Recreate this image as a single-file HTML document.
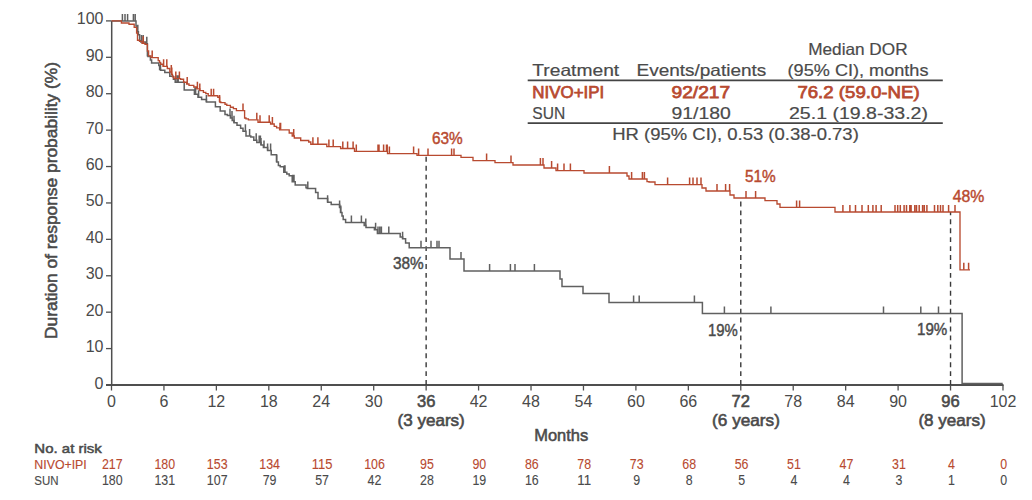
<!DOCTYPE html>
<html><head><meta charset="utf-8"><style>
html,body{margin:0;padding:0;background:#fff;}
svg{display:block;}
text{font-family:"Liberation Sans",sans-serif;fill:#4a4a4a;}
.t16{font-size:16.5px;stroke:#4a4a4a;stroke-width:0.2px;}
.t16n{font-size:16px;stroke-width:0;}
.t16b{font-size:16.5px;stroke:#4a4a4a;stroke-width:0.6px;}
.sb16{font-size:17px;stroke:#4a4a4a;stroke-width:0.75px;}
.t17b{font-size:17px;stroke:#4a4a4a;stroke-width:0.55px;}
.t15b{font-size:17px;stroke:#4a4a4a;stroke-width:0.45px;}
.t14{font-size:14px;stroke:#4a4a4a;stroke-width:0.1px;}
.t13{font-size:13px;stroke:#4a4a4a;stroke-width:0.15px;}
.t13b{font-size:13.5px;stroke:#4a4a4a;stroke-width:0.5px;}
</style></head><body>
<svg width="1032" height="500" viewBox="0 0 1032 500">
<line x1="111.7" y1="20.9" x2="111.7" y2="385.0" stroke="#4f4f4f" stroke-width="1.5"/>
<line x1="106" y1="385.0" x2="1003.5" y2="385.0" stroke="#4f4f4f" stroke-width="1.8"/>
<line x1="106" y1="385.00" x2="111.5" y2="385.00" stroke="#4f4f4f" stroke-width="1.3"/>
<text x="103.5" y="388.50" text-anchor="end" class="t16n">0</text>
<line x1="106" y1="348.59" x2="111.5" y2="348.59" stroke="#4f4f4f" stroke-width="1.3"/>
<text x="103.5" y="352.09" text-anchor="end" class="t16n">10</text>
<line x1="106" y1="312.18" x2="111.5" y2="312.18" stroke="#4f4f4f" stroke-width="1.3"/>
<text x="103.5" y="315.68" text-anchor="end" class="t16n">20</text>
<line x1="106" y1="275.77" x2="111.5" y2="275.77" stroke="#4f4f4f" stroke-width="1.3"/>
<text x="103.5" y="279.27" text-anchor="end" class="t16n">30</text>
<line x1="106" y1="239.36" x2="111.5" y2="239.36" stroke="#4f4f4f" stroke-width="1.3"/>
<text x="103.5" y="242.86" text-anchor="end" class="t16n">40</text>
<line x1="106" y1="202.95" x2="111.5" y2="202.95" stroke="#4f4f4f" stroke-width="1.3"/>
<text x="103.5" y="206.45" text-anchor="end" class="t16n">50</text>
<line x1="106" y1="166.54" x2="111.5" y2="166.54" stroke="#4f4f4f" stroke-width="1.3"/>
<text x="103.5" y="170.04" text-anchor="end" class="t16n">60</text>
<line x1="106" y1="130.13" x2="111.5" y2="130.13" stroke="#4f4f4f" stroke-width="1.3"/>
<text x="103.5" y="133.63" text-anchor="end" class="t16n">70</text>
<line x1="106" y1="93.72" x2="111.5" y2="93.72" stroke="#4f4f4f" stroke-width="1.3"/>
<text x="103.5" y="97.22" text-anchor="end" class="t16n">80</text>
<line x1="106" y1="57.31" x2="111.5" y2="57.31" stroke="#4f4f4f" stroke-width="1.3"/>
<text x="103.5" y="60.81" text-anchor="end" class="t16n">90</text>
<line x1="106" y1="20.90" x2="111.5" y2="20.90" stroke="#4f4f4f" stroke-width="1.3"/>
<text x="103.5" y="24.40" text-anchor="end" class="t16n">100</text>
<line x1="111.50" y1="385.0" x2="111.50" y2="390.5" stroke="#4f4f4f" stroke-width="1.3"/>
<text x="111.50" y="407" text-anchor="middle" class="t16n">0</text>
<line x1="163.94" y1="385.0" x2="163.94" y2="390.5" stroke="#4f4f4f" stroke-width="1.3"/>
<text x="163.94" y="407" text-anchor="middle" class="t16n">6</text>
<line x1="216.38" y1="385.0" x2="216.38" y2="390.5" stroke="#4f4f4f" stroke-width="1.3"/>
<text x="216.38" y="407" text-anchor="middle" class="t16n">12</text>
<line x1="268.82" y1="385.0" x2="268.82" y2="390.5" stroke="#4f4f4f" stroke-width="1.3"/>
<text x="268.82" y="407" text-anchor="middle" class="t16n">18</text>
<line x1="321.26" y1="385.0" x2="321.26" y2="390.5" stroke="#4f4f4f" stroke-width="1.3"/>
<text x="321.26" y="407" text-anchor="middle" class="t16n">24</text>
<line x1="373.70" y1="385.0" x2="373.70" y2="390.5" stroke="#4f4f4f" stroke-width="1.3"/>
<text x="373.70" y="407" text-anchor="middle" class="t16n">30</text>
<line x1="426.14" y1="385.0" x2="426.14" y2="390.5" stroke="#4f4f4f" stroke-width="1.3"/>
<text x="426.14" y="407" text-anchor="middle" class="t16b">36</text>
<line x1="478.58" y1="385.0" x2="478.58" y2="390.5" stroke="#4f4f4f" stroke-width="1.3"/>
<text x="478.58" y="407" text-anchor="middle" class="t16n">42</text>
<line x1="531.02" y1="385.0" x2="531.02" y2="390.5" stroke="#4f4f4f" stroke-width="1.3"/>
<text x="531.02" y="407" text-anchor="middle" class="t16n">48</text>
<line x1="583.46" y1="385.0" x2="583.46" y2="390.5" stroke="#4f4f4f" stroke-width="1.3"/>
<text x="583.46" y="407" text-anchor="middle" class="t16n">54</text>
<line x1="635.90" y1="385.0" x2="635.90" y2="390.5" stroke="#4f4f4f" stroke-width="1.3"/>
<text x="635.90" y="407" text-anchor="middle" class="t16n">60</text>
<line x1="688.34" y1="385.0" x2="688.34" y2="390.5" stroke="#4f4f4f" stroke-width="1.3"/>
<text x="688.34" y="407" text-anchor="middle" class="t16n">66</text>
<line x1="740.78" y1="385.0" x2="740.78" y2="390.5" stroke="#4f4f4f" stroke-width="1.3"/>
<text x="740.78" y="407" text-anchor="middle" class="t16b">72</text>
<line x1="793.22" y1="385.0" x2="793.22" y2="390.5" stroke="#4f4f4f" stroke-width="1.3"/>
<text x="793.22" y="407" text-anchor="middle" class="t16n">78</text>
<line x1="845.66" y1="385.0" x2="845.66" y2="390.5" stroke="#4f4f4f" stroke-width="1.3"/>
<text x="845.66" y="407" text-anchor="middle" class="t16n">84</text>
<line x1="898.10" y1="385.0" x2="898.10" y2="390.5" stroke="#4f4f4f" stroke-width="1.3"/>
<text x="898.10" y="407" text-anchor="middle" class="t16n">90</text>
<line x1="950.54" y1="385.0" x2="950.54" y2="390.5" stroke="#4f4f4f" stroke-width="1.3"/>
<text x="950.54" y="407" text-anchor="middle" class="t16b">96</text>
<line x1="1002.98" y1="385.0" x2="1002.98" y2="390.5" stroke="#4f4f4f" stroke-width="1.3"/>
<text x="1002.98" y="407" text-anchor="middle" class="t16n">102</text>
<text x="397.50" y="425.5" class="t16b" textLength="67.3" lengthAdjust="spacingAndGlyphs">(3 years)</text>
<text x="712.10" y="425.5" class="t16b" textLength="67.8" lengthAdjust="spacingAndGlyphs">(6 years)</text>
<text x="918.40" y="425.5" class="t16b" textLength="67.2" lengthAdjust="spacingAndGlyphs">(8 years)</text>
<text x="561.2" y="441.3" text-anchor="middle" class="t17b" textLength="54" lengthAdjust="spacingAndGlyphs">Months</text>
<text transform="translate(57.3,339) rotate(-90)" x="0" y="0" class="t17b" textLength="277" lengthAdjust="spacingAndGlyphs">Duration of response probability (%)</text>
<text x="34.3" y="452.9" class="t13b" textLength="67.5" lengthAdjust="spacingAndGlyphs">No. at risk</text>
<text x="34.3" y="468.8" class="t13" style="fill:#b84a30;stroke:#b84a30" textLength="52.5" lengthAdjust="spacingAndGlyphs">NIVO+IPI</text>
<text x="34.3" y="484.6" class="t13" textLength="24.2" lengthAdjust="spacingAndGlyphs">SUN</text>
<text x="112.30" y="469.2" text-anchor="middle" class="t14" style="fill:#b84a30;stroke:#b84a30" textLength="20.7" lengthAdjust="spacingAndGlyphs">217</text>
<text x="112.30" y="484.6" text-anchor="middle" class="t14" textLength="20.7" lengthAdjust="spacingAndGlyphs">180</text>
<text x="164.74" y="469.2" text-anchor="middle" class="t14" style="fill:#b84a30;stroke:#b84a30" textLength="20.7" lengthAdjust="spacingAndGlyphs">180</text>
<text x="164.74" y="484.6" text-anchor="middle" class="t14" textLength="20.7" lengthAdjust="spacingAndGlyphs">131</text>
<text x="217.18" y="469.2" text-anchor="middle" class="t14" style="fill:#b84a30;stroke:#b84a30" textLength="20.7" lengthAdjust="spacingAndGlyphs">153</text>
<text x="217.18" y="484.6" text-anchor="middle" class="t14" textLength="20.7" lengthAdjust="spacingAndGlyphs">107</text>
<text x="269.62" y="469.2" text-anchor="middle" class="t14" style="fill:#b84a30;stroke:#b84a30" textLength="20.7" lengthAdjust="spacingAndGlyphs">134</text>
<text x="269.62" y="484.6" text-anchor="middle" class="t14" textLength="13.8" lengthAdjust="spacingAndGlyphs">79</text>
<text x="322.06" y="469.2" text-anchor="middle" class="t14" style="fill:#b84a30;stroke:#b84a30" textLength="20.7" lengthAdjust="spacingAndGlyphs">115</text>
<text x="322.06" y="484.6" text-anchor="middle" class="t14" textLength="13.8" lengthAdjust="spacingAndGlyphs">57</text>
<text x="374.50" y="469.2" text-anchor="middle" class="t14" style="fill:#b84a30;stroke:#b84a30" textLength="20.7" lengthAdjust="spacingAndGlyphs">106</text>
<text x="374.50" y="484.6" text-anchor="middle" class="t14" textLength="13.8" lengthAdjust="spacingAndGlyphs">42</text>
<text x="426.94" y="469.2" text-anchor="middle" class="t14" style="fill:#b84a30;stroke:#b84a30" textLength="13.8" lengthAdjust="spacingAndGlyphs">95</text>
<text x="426.94" y="484.6" text-anchor="middle" class="t14" textLength="13.8" lengthAdjust="spacingAndGlyphs">28</text>
<text x="479.38" y="469.2" text-anchor="middle" class="t14" style="fill:#b84a30;stroke:#b84a30" textLength="13.8" lengthAdjust="spacingAndGlyphs">90</text>
<text x="479.38" y="484.6" text-anchor="middle" class="t14" textLength="13.8" lengthAdjust="spacingAndGlyphs">19</text>
<text x="531.82" y="469.2" text-anchor="middle" class="t14" style="fill:#b84a30;stroke:#b84a30" textLength="13.8" lengthAdjust="spacingAndGlyphs">86</text>
<text x="531.82" y="484.6" text-anchor="middle" class="t14" textLength="13.8" lengthAdjust="spacingAndGlyphs">16</text>
<text x="584.26" y="469.2" text-anchor="middle" class="t14" style="fill:#b84a30;stroke:#b84a30" textLength="13.8" lengthAdjust="spacingAndGlyphs">78</text>
<text x="584.26" y="484.6" text-anchor="middle" class="t14" textLength="13.8" lengthAdjust="spacingAndGlyphs">11</text>
<text x="636.70" y="469.2" text-anchor="middle" class="t14" style="fill:#b84a30;stroke:#b84a30" textLength="13.8" lengthAdjust="spacingAndGlyphs">73</text>
<text x="636.70" y="484.6" text-anchor="middle" class="t14" textLength="6.9" lengthAdjust="spacingAndGlyphs">9</text>
<text x="689.14" y="469.2" text-anchor="middle" class="t14" style="fill:#b84a30;stroke:#b84a30" textLength="13.8" lengthAdjust="spacingAndGlyphs">68</text>
<text x="689.14" y="484.6" text-anchor="middle" class="t14" textLength="6.9" lengthAdjust="spacingAndGlyphs">8</text>
<text x="741.58" y="469.2" text-anchor="middle" class="t14" style="fill:#b84a30;stroke:#b84a30" textLength="13.8" lengthAdjust="spacingAndGlyphs">56</text>
<text x="741.58" y="484.6" text-anchor="middle" class="t14" textLength="6.9" lengthAdjust="spacingAndGlyphs">5</text>
<text x="794.02" y="469.2" text-anchor="middle" class="t14" style="fill:#b84a30;stroke:#b84a30" textLength="13.8" lengthAdjust="spacingAndGlyphs">51</text>
<text x="794.02" y="484.6" text-anchor="middle" class="t14" textLength="6.9" lengthAdjust="spacingAndGlyphs">4</text>
<text x="846.46" y="469.2" text-anchor="middle" class="t14" style="fill:#b84a30;stroke:#b84a30" textLength="13.8" lengthAdjust="spacingAndGlyphs">47</text>
<text x="846.46" y="484.6" text-anchor="middle" class="t14" textLength="6.9" lengthAdjust="spacingAndGlyphs">4</text>
<text x="898.90" y="469.2" text-anchor="middle" class="t14" style="fill:#b84a30;stroke:#b84a30" textLength="13.8" lengthAdjust="spacingAndGlyphs">31</text>
<text x="898.90" y="484.6" text-anchor="middle" class="t14" textLength="6.9" lengthAdjust="spacingAndGlyphs">3</text>
<text x="951.34" y="469.2" text-anchor="middle" class="t14" style="fill:#b84a30;stroke:#b84a30" textLength="6.9" lengthAdjust="spacingAndGlyphs">4</text>
<text x="951.34" y="484.6" text-anchor="middle" class="t14" textLength="6.9" lengthAdjust="spacingAndGlyphs">1</text>
<text x="1003.78" y="469.2" text-anchor="middle" class="t14" style="fill:#b84a30;stroke:#b84a30" textLength="6.9" lengthAdjust="spacingAndGlyphs">0</text>
<text x="1003.78" y="484.6" text-anchor="middle" class="t14" textLength="6.9" lengthAdjust="spacingAndGlyphs">0</text>
<text x="808.2" y="54.5" class="t16" textLength="99.4" lengthAdjust="spacingAndGlyphs">Median DOR</text>
<text x="532.3" y="75.6" class="t16" textLength="86.9" lengthAdjust="spacingAndGlyphs">Treatment</text>
<text x="636.5" y="75.6" class="t16" textLength="129.8" lengthAdjust="spacingAndGlyphs">Events/patients</text>
<text x="787.6" y="75.6" class="t16" textLength="140.9" lengthAdjust="spacingAndGlyphs">(95% CI), months</text>
<line x1="527.7" y1="80.4" x2="942.8" y2="80.4" stroke="#444" stroke-width="1.6"/>
<text x="532.3" y="97.7" class="sb16" style="fill:#b84a30;stroke:#b84a30" textLength="72.0" lengthAdjust="spacingAndGlyphs">NIVO+IPI</text>
<text x="671.5" y="97.7" class="sb16" style="fill:#b84a30;stroke:#b84a30" textLength="58.6" lengthAdjust="spacingAndGlyphs">92/217</text>
<text x="797.4" y="97.7" class="sb16" style="fill:#b84a30;stroke:#b84a30" textLength="122.2" lengthAdjust="spacingAndGlyphs">76.2 (59.0-NE)</text>
<text x="532.3" y="118.8" class="t16" textLength="32.9" lengthAdjust="spacingAndGlyphs">SUN</text>
<text x="671.5" y="118.8" class="t16" textLength="59.3" lengthAdjust="spacingAndGlyphs">91/180</text>
<text x="789.0" y="118.8" class="t16" textLength="139.0" lengthAdjust="spacingAndGlyphs">25.1 (19.8-33.2)</text>
<line x1="527.7" y1="123.1" x2="942.8" y2="123.1" stroke="#444" stroke-width="1.6"/>
<text x="612.2" y="140.4" class="t16" textLength="246.6" lengthAdjust="spacingAndGlyphs">HR (95% CI), 0.53 (0.38-0.73)</text>
<line x1="426.14" y1="385.0" x2="426.14" y2="155.4" stroke="#3a3a3a" stroke-width="1.4" stroke-dasharray="4.9,4.03"/>
<line x1="740.78" y1="385.0" x2="740.78" y2="198" stroke="#3a3a3a" stroke-width="1.4" stroke-dasharray="4.9,4.03"/>
<line x1="950.54" y1="385.0" x2="950.54" y2="212" stroke="#3a3a3a" stroke-width="1.4" stroke-dasharray="4.9,4.03"/>
<text x="432.0" y="144.3" class="t15b" style="fill:#b84a30;stroke:#b84a30" textLength="30.7" lengthAdjust="spacingAndGlyphs">63%</text>
<text x="745.0" y="182.4" class="t15b" style="fill:#b84a30;stroke:#b84a30" textLength="30.8" lengthAdjust="spacingAndGlyphs">51%</text>
<text x="952.8" y="202" class="t15b" style="fill:#b84a30;stroke:#b84a30" textLength="31.6" lengthAdjust="spacingAndGlyphs">48%</text>
<text x="393.0" y="269" class="t15b" textLength="30.8" lengthAdjust="spacingAndGlyphs">38%</text>
<text x="708.0" y="336.4" class="t15b" textLength="29.8" lengthAdjust="spacingAndGlyphs">19%</text>
<text x="917.0" y="335" class="t15b" textLength="30.3" lengthAdjust="spacingAndGlyphs">19%</text>
<path d="M111.5,20.9 H136 V26 H137 V31.8 H138.4 V34.8 H139.6 V40.8 H140.8 V42 H145.6 V43.8 H147.4 V55.8 H148 V56.4 H150.4 V60 H151.6 V63 H158.8 V65.4 H159.6 V69.6 H160.6 V70.2 H164.8 V72.6 H169.8 V76.2 H173.4 V79.2 H175.2 V82.2 H184.2 V90 H194.4 V94.2 H198 V97.2 H201.6 V99.6 H206.4 V102 H215.4 V106.8 H220.2 V111 H225 V114.4 H227.4 V115.6 H230.4 V118 H232.2 V120.4 H234 V122.8 H237 V125.2 H240.6 V128.2 H243 V131.2 H246 V136 H250.8 V137 H253.8 V140.2 H256.8 V142.6 H261 V145 H263.4 V147.4 H267.6 V150.4 H271.2 V154.8 H276.6 V162 H278.4 V165.6 H280.2 V166.8 H283.8 V172.2 H286.8 V174 H289.2 V175.8 H292.2 V181.8 H295.2 V185 H306 V187.8 H307.2 V188.4 H315.6 V192.6 H318 V198.6 H327.6 V202.2 H331.2 V204.6 H339.6 V207.5 H340.5 V212.4 H342 V216 H343.2 V219.6 H345.6 V222.6 H364.2 V225.6 H366 V227.4 H374.4 V229.8 H377.4 V233.6 H400.2 V237 H402.6 V238.8 H405.6 V243 H409.2 V247.8 H450 V259 H464 V271 H560 V279 H562 V286.4 H583 V293.6 H609 V302.4 H702.4 V313.6 H962.1 V383.5 H1002.7" fill="none" stroke="#606060" stroke-width="1.5"/>
<path d="M122.4,20.9 v-7 M125,20.9 v-7 M127.6,20.9 v-7 M133.4,20.9 v-7 M135.2,20.9 v-7 M137.8,31.8 v-7 M141.4,42 v-7 M143.2,42 v-7 M146.8,43.8 v-7 M160.5,69.6 v-7 M177,82.2 v-7 M178.2,82.2 v-7 M195,94.2 v-7 M195.6,94.2 v-7 M198.6,97.2 v-7 M206.4,102 v-7 M230,115.6 v-7 M232,118 v-7 M234,122.8 v-7 M245.4,131.2 v-7 M249.6,136 v-7 M256.2,140.2 v-7 M259.2,142.6 v-7 M260.4,142.6 v-7 M261,145 v-7 M264,147.4 v-7 M267.6,150.4 v-7 M270.6,150.4 v-7 M276.6,162 v-7 M284.4,172.2 v-7 M285,172.2 v-7 M292.8,181.8 v-7 M293.4,181.8 v-7 M294,181.8 v-7 M307.8,188.4 v-7 M327.6,202.2 v-7 M339.6,207.5 v-7 M340.8,212.4 v-7 M351.4,222.6 v-7 M361.4,222.6 v-7 M365.8,225.6 v-7 M375.6,229.8 v-7 M378,233.6 v-7 M379.8,233.6 v-7 M381.4,233.6 v-7 M388.8,233.6 v-7 M402.6,238.8 v-7 M421,247.8 v-7 M431,247.8 v-7 M437,247.8 v-7 M439,247.8 v-7 M461,259 v-7 M489.6,271 v-7 M510.4,271 v-7 M515,271 v-7 M534.4,271 v-7 M633.6,302.4 v-7 M639.2,302.4 v-7 M694.4,302.4 v-7 M724.4,313.6 v-7 M770.9,313.6 v-7 M883.5,313.6 v-7 M920.8,313.6 v-7 M938.5,313.6 v-7 " fill="none" stroke="#606060" stroke-width="1.5"/>
<path d="M111.5,20.9 H121.4 V23 H129 V24.2 H134.2 V27.3 H136.6 V33 H137.5 V40.2 H139.6 V41.4 H142 V43.2 H145 V44.4 H147.4 V51 H148.6 V55.8 H151 V57.6 H158.2 V60.6 H159.5 V62.4 H160.6 V64.2 H163 V66.3 H167.3 V68.5 H169.8 V72 H171.5 V74.5 H172.5 V76.8 H174 V78.6 H180.6 V79.2 H183.6 V82.2 H186.6 V84 H189 V85.4 H193.8 V87 H196.8 V88.8 H199.8 V90.6 H203.4 V92.4 H205.8 V93.6 H208.2 V95.7 H217.8 V97.2 H219.6 V102 H220.8 V102.6 H225 V104.2 H226.8 V105.4 H230.4 V107.2 H233.4 V108.6 H236.4 V110.6 H244.6 V118 H246 V118.8 H248.4 V119.8 H258 V122.2 H270.6 V124 H274.2 V126.4 H276.6 V127.8 H279.6 V129.8 H289.2 V133 H292.2 V136 H294.3 V138 H300.7 V140.5 H308.7 V142 H310.8 V144.2 H326.8 V146.6 H340.6 V148.5 H354.5 V151.4 H387.5 V153.6 H417 V155.4 H461 V157.4 H473 V160.6 H495 V162.6 H513 V165 H544 V168 H556 V170.6 H584 V173 H627 V176 H629 V179 H647 V181.6 H649 V182 H655 V184.6 H702 V188 H706 V191 H730 V195 H734 V198 H765 V200.6 H777 V204 H780 V207.4 H835 V212 H960 V269.8 H970" fill="none" stroke="#b84a30" stroke-width="1.35"/>
<path d="M143.2,43.2 v-7 M152.2,57.6 v-7 M163.6,66.3 v-7 M166.8,66.3 v-7 M171.3,72 v-7 M171.8,74.5 v-7 M175.8,78.6 v-7 M179.4,78.6 v-7 M187.2,84 v-7 M197.4,88.8 v-7 M199.8,90.6 v-7 M211.2,95.7 v-7 M213.6,95.7 v-7 M219.6,102 v-7 M243,110.6 v-7 M256.8,119.8 v-7 M260,122.2 v-7 M269.2,122.2 v-7 M272.4,124 v-7 M280,129.8 v-7 M280.6,129.8 v-7 M293.7,136 v-7 M312.9,144.2 v-7 M317.9,144.2 v-7 M328.9,146.6 v-7 M333.2,146.6 v-7 M342.8,148.5 v-7 M347.6,148.5 v-7 M353.1,148.5 v-7 M356.3,151.4 v-7 M378,151.4 v-7 M379,151.4 v-7 M383.6,151.4 v-7 M386.5,151.4 v-7 M387.2,151.4 v-7 M389.4,153.6 v-7 M413.6,153.6 v-7 M418.6,155.4 v-7 M428,155.4 v-7 M451.6,155.4 v-7 M454,155.4 v-7 M486.6,160.6 v-7 M511,162.6 v-7 M540.4,165 v-7 M543,165 v-7 M551.6,168 v-7 M557.6,170.6 v-7 M564,170.6 v-7 M570.4,170.6 v-7 M609.4,173 v-7 M631.6,179 v-7 M642.4,179 v-7 M644.4,179 v-7 M667.6,184.6 v-7 M689.6,184.6 v-7 M693,184.6 v-7 M697,184.6 v-7 M701,184.6 v-7 M717,191 v-7 M725.6,191 v-7 M729.6,191 v-7 M746,198 v-7 M755.6,198 v-7 M796.6,207.4 v-7 M799.6,207.4 v-7 M842.9,212 v-7 M849.9,212 v-7 M855.5,212 v-7 M862,212 v-7 M868.3,212 v-7 M872.9,212 v-7 M876.1,212 v-7 M881.2,212 v-7 M895.0,212 v-7 M897.7,212 v-7 M900.3,212 v-7 M904.1,212 v-7 M906.5,212 v-7 M909.8,212 v-7 M911.1,212 v-7 M914.8,212 v-7 M916.5,212 v-7 M919.2,212 v-7 M922.6,212 v-7 M924.3,212 v-7 M926.9,212 v-7 M934.5,212 v-7 M937.8,212 v-7 M940.5,212 v-7 M943,212 v-7 M948.6,212 v-7 M955,212 v-7 M963.8,269.8 v-7 M968.6,269.8 v-7 " fill="none" stroke="#b84a30" stroke-width="1.5"/>
</svg>
</body></html>
